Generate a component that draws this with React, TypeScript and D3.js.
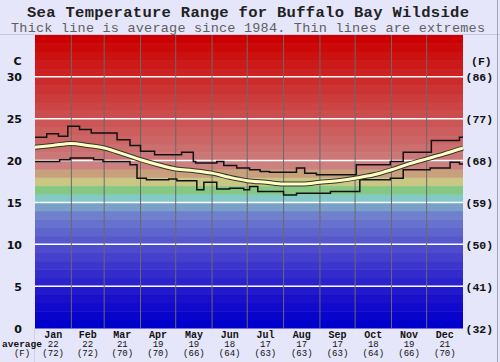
import * as d3 from 'd3';
import React from 'react';

const width = 500;
const height = 362;
const margin = { top: 35, right: 37, bottom: 34, left: 35 };

const months = ['Jan', 'Feb', 'Mar', 'Apr', 'May', 'Jun', 'Jul', 'Aug', 'Sep', 'Oct', 'Nov', 'Dec'];
const monthStart = [0, 31, 59, 90, 120, 151, 181, 212, 243, 273, 304, 334, 365];
const avgC = ['22', '22', '21', '19', '19', '18', '17', '17', '17', '18', '19', '21'];
const avgF = ['(72)', '(72)', '(70)', '(70)', '(66)', '(64)', '(63)', '(63)', '(63)', '(64)', '(66)', '(70)'];

const cTicks = [0, 5, 10, 15, 20, 25, 30];
const fTicks = ['(32)', '(41)', '(50)', '(59)', '(68)', '(77)', '(86)'];

// [day of year, temperature C]
const avgLine: [number, number][] = [
	[0, 21.6], [15, 21.8], [31, 22.05], [45, 21.8], [59, 21.5], [75, 20.8], [90, 20.1],
	[105, 19.5], [120, 19.0], [135, 18.8], [151, 18.5], [166, 18.0], [181, 17.6],
	[197, 17.4], [212, 17.2], [228, 17.2], [243, 17.4], [258, 17.6], [273, 17.9],
	[289, 18.3], [304, 18.9], [319, 19.6], [334, 20.2], [349, 20.8], [365, 21.5],
];

const maxLine: [number, number][] = [
	[0, 22.8], [10, 23.2], [20, 22.9], [28, 24.1], [38, 23.7], [48, 23.3], [70, 22.5],
	[81, 21.8], [90, 21.1], [102, 20.7], [125, 21.0], [135, 19.9], [137, 19.7],
	[155, 19.9], [161, 19.4], [172, 19.1], [183, 18.9], [192, 18.7], [200, 18.6],
	[223, 19.1], [230, 18.5], [240, 18.3], [274, 19.5], [303, 19.9], [314, 21.0],
	[338, 22.4], [362, 22.8], [365, 22.8],
];

const minLine: [number, number][] = [
	[0, 19.9], [21, 20.1], [30, 20.3], [50, 20.1], [58, 19.9], [81, 19.5], [87, 17.9],
	[95, 17.7], [114, 17.8], [121, 17.6], [138, 16.5], [144, 17.4], [155, 16.6],
	[166, 16.7], [178, 16.5], [183, 16.9], [190, 16.3], [212, 15.9], [223, 16.1],
	[252, 16.3], [277, 17.7], [303, 17.9], [314, 18.9], [337, 19.1], [354, 19.8],
	[362, 19.6], [365, 19.6],
];

const bandColor = (t: number) => {
	if (t >= 19) return d3.interpolateRgb('#cc8080', '#cc0000')((t - 19) / 15);
	if (t === 18) return '#c8a07c';
	if (t === 17) return '#c8c884';
	if (t === 16) return '#84c884';
	if (t === 15) return '#84c8c8';
	if (t === 14) return '#78a0c8';
	const k = t / 13;
	return d3.rgb(112 * k, 128 * Math.pow(k, 1.4), 204).formatHex();
};

const mono = '"Liberation Mono", "Courier New", monospace';
const sans = '"DejaVu Sans", Verdana, sans-serif';

const App = () => {
	const innerW = width - margin.left - margin.right;
	const innerH = height - margin.top - margin.bottom;

	const x = d3.scaleLinear().domain([0, 365]).range([margin.left, margin.left + innerW]);
	const y = d3.scaleLinear().domain([0, 35]).range([margin.top + innerH, margin.top]);

	const bands = d3.range(0, 35);

	const stepLine = d3
		.line<[number, number]>()
		.x(d => x(d[0]))
		.y(d => y(d[1]))
		.curve(d3.curveStepAfter);

	const smoothLine = d3
		.line<[number, number]>()
		.x(d => x(d[0]))
		.y(d => y(d[1]))
		.curve(d3.curveMonotoneX);

	return (
		<svg width={width} height={height} style={{ position: 'absolute', left: 0, top: 0 }}>
			<rect width={width} height={height} fill="#e6e6fa" />
			<line x1={0} x2={width} y1={34.5} y2={34.5} stroke="#c8c8dc" />
			<line x1={497.5} x2={497.5} y1={0} y2={height} stroke="#a0a0b0" />
			<line x1={34.5} x2={34.5} y1={328} y2={height} stroke="#d0d0e0" />

			<text x={248} y={16.5} textAnchor="middle" fontFamily={mono} fontWeight="bold" fontSize={15.5} textLength={442} lengthAdjust="spacing" fill="#222">
				Sea Temperature Range for Buffalo Bay Wildside
			</text>
			<text x={248} y={32} textAnchor="middle" fontFamily={mono} fontSize={13.5} textLength={474} lengthAdjust="spacing" fill="#606060">
				Thick line is average since 1984. Thin lines are extremes
			</text>

			{bands.map(t => (
				<rect
					key={t}
					x={x(0)}
					y={y(t + 1)}
					width={innerW}
					height={y(t) - y(t + 1) + 0.5}
					fill={bandColor(t)}
				/>
			))}

			{cTicks.slice(1).map(t => (
				<line key={t} x1={x(0)} x2={x(365)} y1={y(t)} y2={y(t)} stroke="#fff" strokeWidth={1.5} />
			))}

			{monthStart.slice(1, 12).map(d => (
				<line key={d} x1={x(d)} x2={x(d)} y1={y(35)} y2={y(0)} stroke="#6a6a6a" strokeWidth={1} />
			))}

			<path d={stepLine(maxLine) || ''} fill="none" stroke="#111" strokeWidth={1.5} />
			<path d={stepLine(minLine) || ''} fill="none" stroke="#111" strokeWidth={1.5} />
			<path d={smoothLine(avgLine) || ''} fill="none" stroke="#333" strokeWidth={5} />
			<path d={smoothLine(avgLine) || ''} fill="none" stroke="#ffffc0" strokeWidth={3} />

			<text x={17.5} y={65} textAnchor="middle" fontFamily={sans} fontWeight="bold" fontSize={11} fill="#111">
				C
			</text>
			{cTicks.map(t => (
				<text key={t} x={22} y={y(t) + 4.5} textAnchor="end" fontFamily={sans} fontWeight="bold" fontSize={11} fill="#111">
					{t}
				</text>
			))}

			<text x={471} y={65} fontFamily={mono} fontWeight="bold" fontSize={11.5} fill="#111">
				(F)
			</text>
			{fTicks.map((f, i) => (
				<text key={f} x={465.5} y={y(cTicks[i]) + 4.5} fontFamily={mono} fontWeight="bold" fontSize={11.5} fill="#111">
					{f}
				</text>
			))}

			{months.map((m, i) => {
				const cx = x((monthStart[i] + monthStart[i + 1]) / 2);
				return (
					<g key={m} fontFamily={mono} fill="#111" textAnchor="middle">
						<text x={cx} y={337.5} fontWeight="bold" fontSize={10}>
							{m}
						</text>
						<text x={cx} y={346.5} fontSize={9}>
							{avgC[i]}
						</text>
						<text x={cx} y={355.5} fontSize={9}>
							{avgF[i]}
						</text>
					</g>
				);
			})}
			<text x={22} y={346.5} textAnchor="middle" fontFamily={mono} fontWeight="bold" fontSize={9.5} fill="#111">
				average
			</text>
			<text x={22} y={355.5} textAnchor="middle" fontFamily={mono} fontSize={9} fill="#111">
				(F)
			</text>
		</svg>
	);
};

export default App;
